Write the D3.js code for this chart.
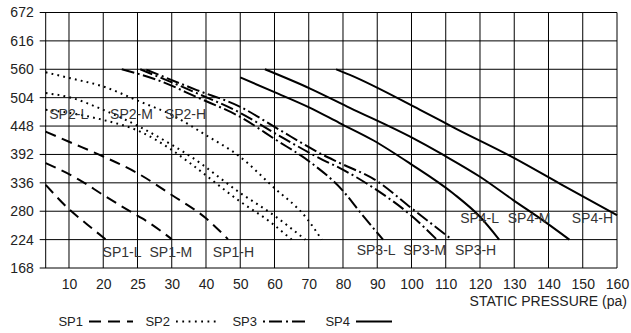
<!DOCTYPE html>
<html><head><meta charset="utf-8">
<script src="https://cdn.jsdelivr.net/npm/d3@7"></script>
<style>
html,body{margin:0;padding:0;background:#fff;}
svg{display:block;font-family:"Liberation Sans",Arial,Helvetica,sans-serif;}
</style></head><body>
<svg id="chart" width="631" height="333"></svg>
<script>
// ---------- data ----------
const xTickLabels = [10,20,25,30,40,50,60,70,80,90,100,110,120,130,140,150,160];
const xMinValue = 3.2;           // pressure at left edge of plot
const yTicks = [168,224,280,336,392,448,504,560,616,672];
const xTitle = "STATIC PRESSURE (pa)";

// curves: [static pressure (pa), airflow]
const sp1L = [[3.2,332],[10,284],[15.5,253],[20.4,224]];
const sp1M = [[3.2,375],[13,342],[20,312],[24,279],[26.5,259],[30,225]];
const sp1H = [[3.2,437],[10,417],[20,388],[25,355],[30,312],[40,266],[46.4,225]];

const sp2L = [[3.2,480],[10,474],[20,460],[25.4,437],[30,401],[35.3,375],[50,299],[58.7,259],[65,224]];
const sp2M = [[3.2,513],[10,505],[20,480],[25.4,446],[30,411],[35.3,389],[50,316],[59.6,273],[69,224]];
const sp2H = [[3.2,554],[10,543],[20,526],[25.4,496],[30,470],[40,430],[50,387],[59.6,328],[69.4,266],[73.8,224]];

const sp3L = [[22.7,560],[28.3,537],[37.3,505],[50,466],[60.6,420],[70.4,377],[80,320],[85,278],[91.7,224]];
const sp3M = [[25.4,560],[37.3,513],[50,474],[60.6,432],[74.2,381],[79.1,365],[89.8,322],[100,271],[107.4,224]];
const sp3H = [[26.3,559],[37.3,519],[50,486],[60.6,444],[74.2,391],[79.1,375],[89.8,340],[100,286],[111.8,224]];

const sp4L = [[50,544],[60,515],[70.4,484],[79,454],[88.8,420],[99.6,374],[112.2,315],[120,269],[125.6,224]];
const sp4M = [[57.2,560],[70.4,522],[82,484],[99.6,427],[109.3,391],[120,348],[129.7,302],[139,259],[146.1,224]];
const sp4H = [[78,560],[82,549],[102.5,480],[113.2,442],[128.8,389],[143.4,334],[160,272]];

const seriesNames = ["SP1","SP2","SP3","SP4"];
const curveLabels = [
  ["SP1-L",19.8,189],["SP1-M",26.75,189],["SP1-H",42,189],
  ["SP2-L",4.25,462.5],["SP2-M",21,462.5],["SP2-H",29,462.5],
  ["SP3-L",84,193.6],["SP3-M",97.6,193.6],["SP3-H",112.7,193.6],
  ["SP4-L",114.2,256.8],["SP4-M",128.1,256.8],["SP4-H",146.8,256.8]
];

// ---------- layout ----------
const plotLeft = 45.7, plotRight = 617, plotTop = 12.5, plotBottom = 268;
const FONT = 14, TXT = "#222";

const svg = d3.select("#chart");

// piecewise x scale: tick labels equally spaced
const leftSteps = (xTickLabels[0] - xMinValue) / (xTickLabels[1] - xTickLabels[0]);
const step = (plotRight - plotLeft) / (xTickLabels.length - 1 + leftSteps);
const xDomain = [xMinValue, ...xTickLabels];
const xRange = xDomain.map((d, i) => i === 0 ? plotLeft : plotLeft + (leftSteps + i - 1) * step);
const x = d3.scaleLinear().domain(xDomain).range(xRange);
const y = d3.scaleLinear().domain([yTicks[0], yTicks[yTicks.length-1]]).range([plotBottom, plotTop]);

// ---------- grid ----------
const grid = svg.append("g").attr("stroke", "#000").attr("stroke-width", 1).attr("fill", "none");
grid.selectAll("line.h").data(yTicks).join("line")
  .attr("x1", plotLeft - 6).attr("x2", plotRight)
  .attr("y1", d => y(d)).attr("y2", d => y(d));
grid.selectAll("line.v").data([xMinValue, ...xTickLabels]).join("line")
  .attr("x1", d => x(d)).attr("x2", d => x(d))
  .attr("y1", plotTop).attr("y2", plotBottom);

// ---------- axes ----------
const yAxis = d3.axisLeft(y).tickValues(yTicks).tickSize(0).tickPadding(12);
const gy = svg.append("g").attr("transform", `translate(${plotLeft},0)`).call(yAxis);
const xAxis = d3.axisBottom(x).tickValues(xTickLabels).tickSize(0).tickPadding(11);
const gx = svg.append("g").attr("transform", `translate(0,${plotBottom})`).call(xAxis);
[gx, gy].forEach(g => {
  g.select(".domain").remove();
  g.selectAll("text").attr("font-family", '"Liberation Sans",Arial,sans-serif')
    .attr("font-size", FONT).attr("fill", TXT);
});

svg.append("text").attr("x", 627).attr("y", 306).attr("text-anchor", "end")
  .attr("font-size", FONT).attr("fill", TXT).text(xTitle);

// ---------- curves ----------
const styles = {
  SP1: {dash: "11,6.5", width: 2},
  SP2: {dash: "1.8,4.2", width: 2},
  SP3: {dash: "13,3.5,2,3.5", width: 2},
  SP4: {dash: null, width: 2}
};
const curves = [
  ["SP1", sp1L],["SP1", sp1M],["SP1", sp1H],
  ["SP2", sp2L],["SP2", sp2M],["SP2", sp2H],
  ["SP3", sp3L],["SP3", sp3M],["SP3", sp3H],
  ["SP4", sp4L],["SP4", sp4M],["SP4", sp4H]
];
const line = d3.line().x(d => x(d[0])).y(d => y(d[1])).curve(d3.curveMonotoneX);
svg.append("g").selectAll("path").data(curves).join("path")
  .attr("d", d => line(d[1]))
  .attr("fill", "none").attr("stroke", "#000")
  .attr("stroke-width", d => styles[d[0]].width)
  .attr("stroke-dasharray", d => styles[d[0]].dash);

// ---------- curve labels ----------
svg.append("g").selectAll("text").data(curveLabels).join("text")
  .attr("x", d => x(d[1])).attr("y", d => y(d[2]))
  .attr("font-size", FONT).attr("fill", "#333")
  .text(d => d[0]);

// ---------- legend ----------
const legendSample = [[89,133],[176,218],[263,305],[356,392]];
const legendDash = {SP1: "12,7", SP2: "1.8,4.5", SP3: "2,4,13,4", SP4: null};
const lg = svg.append("g");
seriesNames.forEach((s, i) => {
  lg.append("text").attr("x", legendSample[i][0] - 6).attr("y", 326)
    .attr("text-anchor", "end")
    .attr("font-size", 13).attr("fill", TXT).text(s);
  lg.append("line").attr("x1", legendSample[i][0]).attr("x2", legendSample[i][1])
    .attr("y1", 321.5).attr("y2", 321.5).attr("stroke", "#000").attr("stroke-width", 2)
    .attr("stroke-dasharray", legendDash[s]);
});
</script>
</body></html>
